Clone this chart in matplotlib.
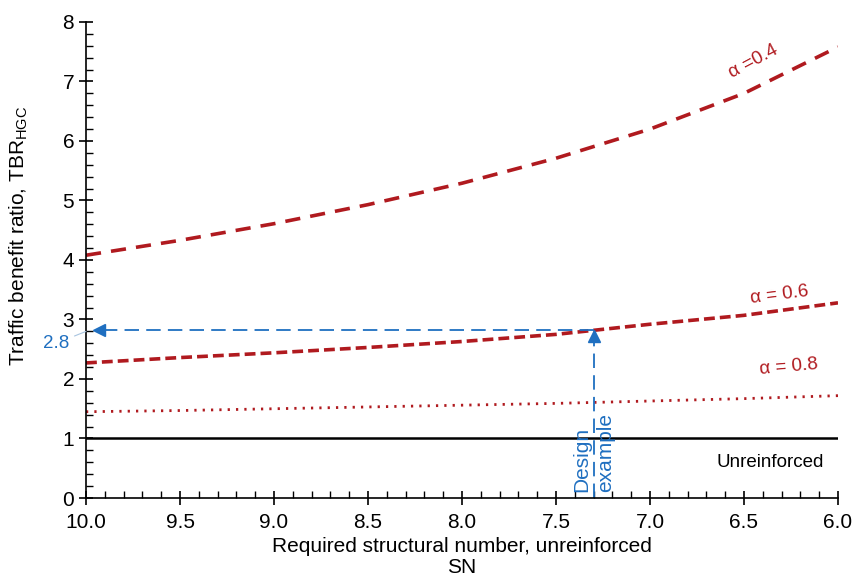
import numpy as np
import matplotlib
matplotlib.use("Agg")
import matplotlib.pyplot as plt
from matplotlib.ticker import MultipleLocator

plt.rcParams['font.family'] = ['Liberation Sans', 'DejaVu Sans']

# data
sn = [10.0, 9.5, 9.0, 8.5, 8.0, 7.5, 7.0, 6.5, 6.0]
tbr_a04 = [4.08, 4.33, 4.61, 4.93, 5.29, 5.71, 6.20, 6.80, 7.58]
tbr_a06 = [2.27, 2.36, 2.44, 2.53, 2.63, 2.75, 2.92, 3.07, 3.28]
tbr_a08 = [1.45, 1.47, 1.50, 1.53, 1.56, 1.59, 1.63, 1.67, 1.72]
unreinforced = [1.0] * len(sn)
design_sn = 7.3
design_tbr = 2.83

red = '#b01a1f'
blue = '#1f6fc0'

fig = plt.figure(figsize=(8.55, 5.78), dpi=100)
ax = fig.add_axes([0.1006, 0.1384, 0.8795, 0.8236])

ax.plot(sn, tbr_a04, color=red, lw=2.6, dashes=(4.2, 2.8))
ax.plot(sn, tbr_a06, color=red, lw=2.6, dashes=(3, 1.4))
ax.plot(sn, tbr_a08, color=red, lw=2.0, dashes=(0.8, 2.2))
ax.plot(sn, unreinforced, color='black', lw=1.8)

# design example arrows
ax.plot([design_sn, 9.93], [design_tbr, design_tbr], color=blue, lw=1.3, dashes=(8, 4))
ax.plot([design_sn, design_sn], [0, design_tbr - 0.1], color=blue, lw=1.3, dashes=(8, 4))
ax.plot([9.93], [design_tbr], marker='<', color=blue, ms=9, mec=blue)
ax.plot([design_sn], [design_tbr - 0.1], marker='^', color=blue, ms=9, mec=blue)

ax.annotate('2.8', xy=(10.0, 2.8), xytext=(-30, -12), textcoords='offset pixels',
            ha='center', va='center', color=blue, fontsize=13.5, annotation_clip=False,
            arrowprops=dict(arrowstyle='-', color='#a8c4e0', lw=0.8, shrinkA=2, shrinkB=0))

ax.text(design_sn, 0.1, 'Design\nexample', rotation=90, ha='center', va='bottom',
        color=blue, fontsize=15, multialignment='left', linespacing=1.35)

ax.text(6.45, 7.33, 'α =0.4', color=red, fontsize=13.5, rotation=28,
        ha='center', va='center')
ax.text(6.31, 3.42, 'α = 0.6', color=red, fontsize=13.5, rotation=7,
        ha='center', va='center')
ax.text(6.26, 2.2, 'α = 0.8', color=red, fontsize=13.5, rotation=5,
        ha='center', va='center')
ax.text(6.36, 0.6, 'Unreinforced', color='black', fontsize=13.5,
        ha='center', va='center')

ax.set_xlim(10.0, 6.0)
ax.set_ylim(0, 8)
ax.xaxis.set_major_locator(MultipleLocator(0.5))
ax.xaxis.set_minor_locator(MultipleLocator(0.1))
ax.yaxis.set_major_locator(MultipleLocator(1))
ax.yaxis.set_minor_locator(MultipleLocator(0.2))
ax.xaxis.set_major_formatter(plt.FormatStrFormatter('%.1f'))
ax.tick_params(which='major', direction='inout', length=10, width=1.2, labelsize=15)
ax.tick_params(axis='x', which='major', pad=6)
ax.tick_params(which='minor', direction='in', length=5, width=1.0)
ax.spines['top'].set_visible(False)
ax.spines['right'].set_visible(False)
ax.spines['left'].set_linewidth(1.2)
ax.spines['bottom'].set_linewidth(1.2)

ax.set_xlabel('Required structural number, unreinforced\nSN', fontsize=15,
              linespacing=1.1)
ax.xaxis.set_label_coords(0.5, -0.082)
ax.set_ylabel('Traffic benefit ratio, TBR$_{\\mathregular{HGC}}$', fontsize=15)
ax.yaxis.set_label_coords(-0.074, 0.55)

fig.savefig('out.png', dpi=100)
